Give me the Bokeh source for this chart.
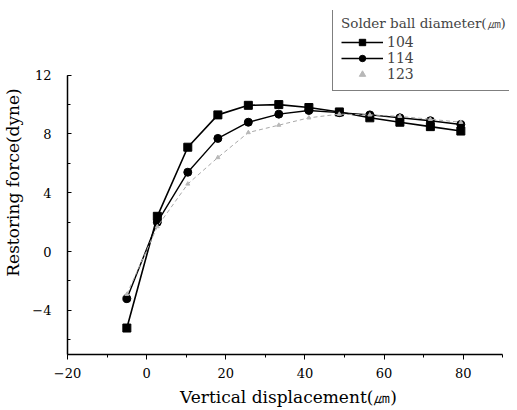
from bokeh.plotting import figure
from bokeh.models import Legend, LegendItem, Range1d, SingleIntervalTicker
from bokeh.embed import file_html
from bokeh.resources import INLINE

# data
x_disp = [-5.0, 2.7, 10.4, 18.0, 25.7, 33.4, 41.0, 48.7, 56.4, 64.0, 71.7, 79.4]
force_104 = [-5.2, 2.4, 7.1, 9.3, 9.95, 10.0, 9.8, 9.5, 9.1, 8.8, 8.5, 8.2]
force_114 = [-3.2, 2.0, 5.4, 7.7, 8.8, 9.35, 9.6, 9.45, 9.3, 9.1, 8.9, 8.65]
force_123 = [-2.9, 1.7, 4.6, 6.4, 8.1, 8.6, 9.1, 9.35, 9.3, 9.2, 9.0, 8.8]
series_labels = ["104", "114", "123"]
legend_title = "Solder ball diameter(\u339b)"
x_label = "Vertical displacement(\u339b)"
y_label = "Restoring force(dyne)"

FONT = "DejaVu Serif"

# axis spans drawn in the reference
x_axis_span = (-20, 90)
y_axis_span = (-7, 12)

p = figure(width=509, height=409, output_backend="svg", toolbar_location=None,
           x_range=Range1d(-20, 91.7), y_range=Range1d(-7, 16.4),
           min_border_left=58, min_border_right=0, min_border_top=10, min_border_bottom=54)
p.outline_line_color = None
p.xgrid.visible = False
p.ygrid.visible = False
p.background_fill_color = "white"

r1l = p.line(x_disp, force_104, line_color="black", line_width=1.6)
r1m = p.scatter(x_disp, force_104, marker="square", size=8, color="black")
r2l = p.line(x_disp, force_114, line_color="black", line_width=1.4)
r2m = p.scatter(x_disp, force_114, marker="circle", size=8, color="black")
r3l = p.line(x_disp, force_123, line_color="#a8a8a8", line_width=1.0, line_dash="4 3")
r3m = p.scatter(x_disp, force_123, marker="triangle", size=4, color="#b8b8b8")

p.xaxis.ticker = SingleIntervalTicker(interval=20, num_minor_ticks=2)
p.yaxis.ticker = SingleIntervalTicker(interval=4, num_minor_ticks=2)
p.xaxis.bounds = x_axis_span
p.yaxis.bounds = y_axis_span

for ax in (p.xaxis[0], p.yaxis[0]):
    ax.axis_line_color = "black"
    ax.axis_line_width = 1.5
    ax.major_tick_line_color = "black"
    ax.minor_tick_line_color = "black"
    ax.major_label_text_font = FONT
    ax.major_label_text_font_size = "13px"
    ax.major_label_text_color = "black"
    ax.axis_label_text_font = FONT
    ax.axis_label_text_font_size = "17px"
    ax.axis_label_text_font_style = "normal"
    ax.axis_label_text_color = "black"

p.xaxis.major_tick_in = 0
p.xaxis.major_tick_out = 5
p.xaxis.minor_tick_in = 0
p.xaxis.minor_tick_out = 3
p.xaxis.major_label_standoff = 8
p.xaxis.axis_label = x_label
p.xaxis.axis_label_standoff = 6

p.yaxis.major_tick_in = 4
p.yaxis.major_tick_out = 0
p.yaxis.minor_tick_in = 3
p.yaxis.minor_tick_out = 0
p.yaxis.major_label_standoff = 16
p.yaxis.axis_label = y_label
p.yaxis.axis_label_standoff = 6

legend = Legend(items=[
    LegendItem(label=series_labels[0], renderers=[r1l, r1m]),
    LegendItem(label=series_labels[1], renderers=[r2l, r2m]),
    LegendItem(label=series_labels[2], renderers=[r3m]),
], location=(265, 263))
legend.title = legend_title
legend.title_text_font = FONT
legend.title_text_font_size = "13.5px"
legend.title_text_font_style = "normal"
legend.title_standoff = 1
legend.label_text_font = FONT
legend.label_text_font_size = "14px"
legend.label_height = 16
legend.glyph_height = 16
legend.glyph_width = 42
legend.spacing = 0
legend.padding = 8
legend.margin = 0
legend.label_standoff = 4
legend.border_line_color = "black"
legend.border_line_width = 1.5
legend.background_fill_alpha = 1
p.add_layout(legend, "center")

open("out.html", "w").write(file_html(p, INLINE))
